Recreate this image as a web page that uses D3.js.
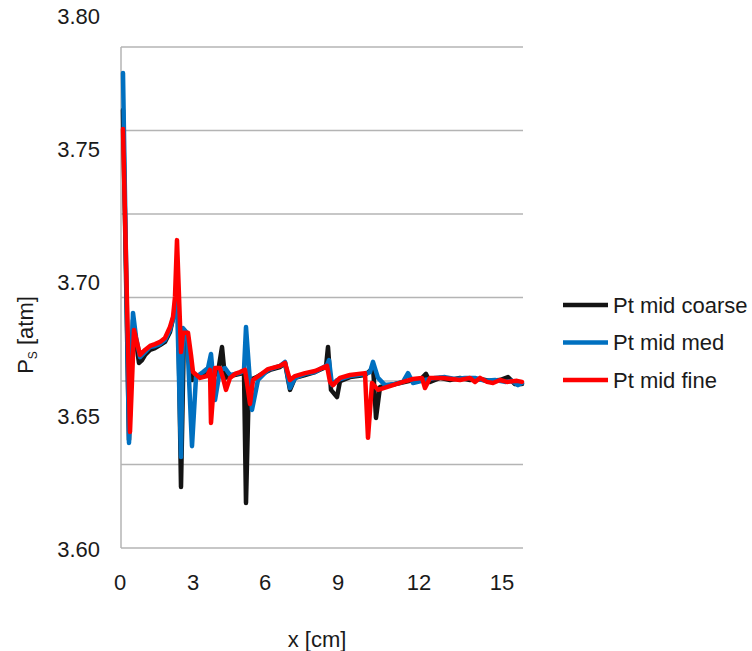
<!DOCTYPE html>
<html>
<head>
<meta charset="utf-8">
<script src="https://cdn.jsdelivr.net/npm/d3@7"></script>
<style>
  html, body { margin: 0; padding: 0; background: #ffffff; }
  svg { display: block; font-family: "Liberation Sans", Arial, sans-serif; }
</style>
</head>
<body>
<svg id="chart" width="752" height="651"></svg>
<script>
// ---- data (x in cm, Ps in atm) ----
const seriesNames = ["Pt mid coarse", "Pt mid med", "Pt mid fine"];
const xTicks = [0, 3, 6, 9, 12, 15];
const yTicks = [3.60, 3.65, 3.70, 3.75, 3.80];

const coarse = [
  [0.123,3.7647],[0.37,3.6409],[0.534,3.6859],[0.781,3.6698],[0.904,3.6709],[1.027,3.6728],
  [1.233,3.6747],[1.438,3.6754],[1.644,3.6765],[1.849,3.6777],[2.055,3.6814],[2.26,3.6897],
  [2.384,3.6934],[2.507,3.6233],[2.63,3.6822],[2.795,3.6792],[2.959,3.6634],[3.125,3.6642],
  [3.417,3.6657],[3.708,3.6664],[3.917,3.6653],[4.042,3.6664],[4.208,3.6758],[4.333,3.6642],
  [4.542,3.6649],[4.958,3.6657],[5.125,3.6664],[5.208,3.6173],[5.333,3.6634],[5.583,3.6642],
  [5.875,3.6657],[6.205,3.6672],[6.616,3.6683],[6.822,3.6698],[7.027,3.6597],[7.233,3.6642],
  [7.644,3.6653],[8.055,3.6664],[8.507,3.6683],[8.589,3.6758],[8.712,3.6597],[8.959,3.6570],
  [9.074,3.6630],[9.444,3.6645],[10.0,3.6653],[10.222,3.6672],[10.296,3.6690],[10.407,3.6492],
  [10.556,3.6608],[10.926,3.6615],[11.296,3.6623],[11.667,3.6631],[12.036,3.6634],[12.253,3.6657],
  [12.398,3.6627],[12.759,3.6642],[13.12,3.6634],[13.482,3.6642],[13.843,3.6634],[14.205,3.6638],
  [14.566,3.6631],[14.928,3.6634],[15.217,3.6645],[15.47,3.6619],[15.723,3.6619]
];

const med = [
  [0.123,3.7786],[0.37,3.6398],[0.534,3.6886],[0.658,3.6795],[0.822,3.6720],[1.027,3.6739],
  [1.233,3.6758],[1.438,3.6762],[1.644,3.6769],[1.849,3.6784],[2.055,3.6822],[2.219,3.6878],
  [2.342,3.6934],[2.507,3.6345],[2.589,3.6829],[2.753,3.6811],[2.959,3.6386],[3.125,3.6645],
  [3.417,3.6664],[3.625,3.6679],[3.75,3.6732],[3.917,3.6559],[4.125,3.6672],[4.333,3.6679],
  [4.542,3.6653],[4.958,3.6660],[5.125,3.6672],[5.208,3.6833],[5.458,3.6522],[5.708,3.6634],
  [6.123,3.6672],[6.616,3.6687],[6.822,3.6702],[7.027,3.6604],[7.233,3.6642],[7.644,3.6657],
  [8.055,3.6664],[8.548,3.6690],[8.63,3.6709],[8.753,3.6615],[8.959,3.6634],[9.444,3.6649],
  [10.0,3.6657],[10.185,3.6664],[10.296,3.6702],[10.481,3.6642],[10.741,3.6615],[11.111,3.6619],
  [11.407,3.6627],[11.593,3.6660],[11.778,3.6623],[12.217,3.6634],[12.578,3.6642],[12.94,3.6645],
  [13.301,3.6638],[13.663,3.6642],[14.024,3.6642],[14.386,3.6631],[14.747,3.6634],[15.108,3.6627],
  [15.361,3.6631],[15.578,3.6615],[15.723,3.6623]
];

const fine = [
  [0.123,3.7576],[0.411,3.6439],[0.575,3.6822],[0.822,3.6728],[1.027,3.6747],[1.233,3.6762],
  [1.438,3.6769],[1.644,3.6777],[1.849,3.6792],[2.055,3.6833],[2.178,3.6871],[2.26,3.6946],
  [2.342,3.7159],[2.507,3.6739],[2.589,3.6811],[2.795,3.6811],[2.918,3.6728],[3.0,3.6664],
  [3.292,3.6642],[3.583,3.6649],[3.708,3.6672],[3.75,3.6473],[3.917,3.6679],[4.125,3.6679],
  [4.25,3.6642],[4.375,3.6597],[4.542,3.6642],[4.75,3.6657],[4.958,3.6664],[5.167,3.6672],
  [5.292,3.6597],[5.375,3.6544],[5.5,3.6634],[5.792,3.6653],[6.123,3.6675],[6.616,3.6687],
  [6.822,3.6698],[7.027,3.6634],[7.233,3.6649],[7.644,3.6660],[8.055,3.6668],[8.342,3.6679],
  [8.548,3.6687],[8.671,3.6627],[8.795,3.6615],[9.074,3.6642],[9.444,3.6653],[10.0,3.6660],
  [10.111,3.6417],[10.259,3.6623],[10.481,3.6597],[11.037,3.6615],[11.407,3.6627],[11.778,3.6638],
  [12.108,3.6642],[12.217,3.6604],[12.398,3.6642],[12.867,3.6642],[13.482,3.6634],[13.843,3.6642],
  [14.024,3.6627],[14.205,3.6642],[14.458,3.6627],[14.675,3.6623],[14.928,3.6634],[15.181,3.6627],
  [15.542,3.6631],[15.723,3.6627]
];

const seriesData = [coarse, med, fine];
const seriesColors = ["#141414", "#0070c0", "#ff0000"];

// ---- layout ----
const svg = d3.select("#chart");
const frame = { left: 121, right: 523, top: 47, bottom: 548 };
const gridCount = 6;
const font = 22;
const textColor = "#1a1a1a";

const x = d3.scaleLinear().domain(xTicks).range([120, 193, 265, 338, 419, 502]);
const y = d3.scaleLinear().domain([3.60, 3.80]).range([549, 16]);
const gridY = d3.scaleLinear().domain([0, gridCount]).range([frame.bottom, frame.top]);

// gridlines
svg.append("g").selectAll("line")
  .data(d3.range(gridCount + 1))
  .join("line")
  .attr("x1", frame.left).attr("x2", frame.right)
  .attr("y1", d => gridY(d)).attr("y2", d => gridY(d))
  .attr("stroke", "#b4b4b4").attr("stroke-width", 1.5);

// left frame line
svg.append("line")
  .attr("x1", frame.left).attr("x2", frame.left)
  .attr("y1", frame.top).attr("y2", frame.bottom)
  .attr("stroke", "#b4b4b4").attr("stroke-width", 1.5);

// y tick labels
svg.append("g").selectAll("text")
  .data(yTicks)
  .join("text")
  .attr("x", 100)
  .attr("y", d => y(d))
  .attr("dy", "0.36em")
  .attr("text-anchor", "end")
  .attr("font-size", font)
  .attr("fill", textColor)
  .text(d => d.toFixed(2));

// x tick labels
svg.append("g").selectAll("text")
  .data(xTicks)
  .join("text")
  .attr("x", d => x(d))
  .attr("y", 590)
  .attr("text-anchor", "middle")
  .attr("font-size", font)
  .attr("fill", textColor)
  .text(d => d);

// axis titles
svg.append("text")
  .attr("x", 317).attr("y", 647)
  .attr("text-anchor", "middle")
  .attr("font-size", font)
  .attr("fill", textColor)
  .text("x [cm]");

const yTitle = svg.append("text")
  .attr("transform", "translate(33,335) rotate(-90)")
  .attr("text-anchor", "middle")
  .attr("font-size", font)
  .attr("fill", textColor);
yTitle.append("tspan").text("P");
yTitle.append("tspan").attr("font-size", 12).attr("dy", 4).text("S");
yTitle.append("tspan").attr("dy", -4).text(" [atm]");

// lines
const line = d3.line().x(d => x(d[0])).y(d => y(d[1]));
svg.append("g").selectAll("path")
  .data(seriesData)
  .join("path")
  .attr("d", line)
  .attr("fill", "none")
  .attr("stroke", (d, i) => seriesColors[i])
  .attr("stroke-width", 4.5)
  .attr("stroke-linejoin", "round")
  .attr("stroke-linecap", "round");

// legend
const legend = svg.append("g").selectAll("g")
  .data(seriesNames)
  .join("g")
  .attr("transform", (d, i) => `translate(563, ${305 + i * 37.5})`);
legend.append("line")
  .attr("x1", 0).attr("x2", 45)
  .attr("stroke", (d, i) => seriesColors[i])
  .attr("stroke-width", 4.5);
legend.append("text")
  .attr("x", 50).attr("dy", "0.36em")
  .attr("font-size", font)
  .attr("fill", textColor)
  .text(d => d);
</script>
</body>
</html>
